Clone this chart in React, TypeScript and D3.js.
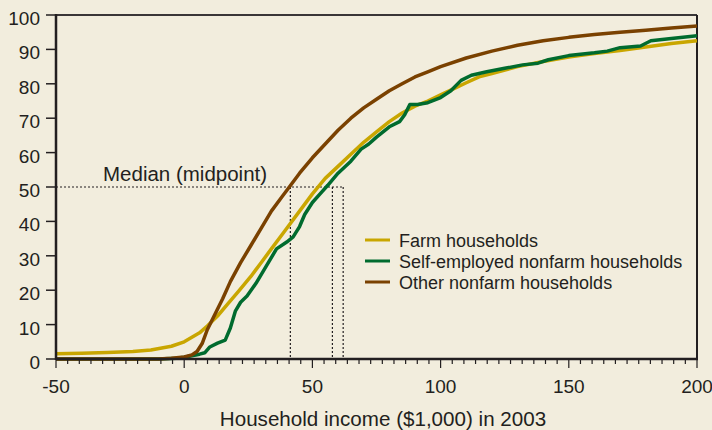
import * as d3 from "d3";

const yTicks = [0, 10, 20, 30, 40, 50, 60, 70, 80, 90, 100];
const xTicks = [-50, 0, 50, 100, 150, 200];

// income ($1,000), cumulative share of households (%)
const farmX = [-50, -40, -30, -20, -13, -5, 0, 3, 6, 9, 13, 17, 21, 26, 30, 34, 39, 45, 50, 55, 60, 65, 70, 75, 80, 85, 90, 95, 100, 105, 110, 115, 120, 130, 140, 150, 160, 170, 180, 190, 200];
const farmY = [1.5, 1.7, 1.9, 2.2, 2.6, 3.7, 5, 6.3, 7.6, 9.6, 12.5, 16, 19.5, 24, 28, 32, 37, 43, 48, 52.5, 56, 59.5, 63, 66, 69, 71.5, 73.5, 75, 76.8, 78.5, 80.3, 82, 83, 85, 86.5, 87.8, 88.8, 89.7, 90.7, 91.7, 92.5];

const selfX = [-50, -10, -3, 0, 6, 8, 10, 13, 16, 18, 20, 22, 24.5, 28, 32, 36, 40, 42.5, 45, 47, 50, 53, 56, 60, 65, 69, 72, 75, 80, 84, 86, 88, 91, 95, 100, 104, 108, 112, 118, 125, 132, 138, 142, 150, 160, 165, 170, 178, 182, 190, 200];
const selfY = [0, 0, 0.2, 0.5, 1.4, 1.8, 3.5, 4.6, 5.5, 9, 14, 16.5, 18.3, 22, 27, 32, 34, 35.5, 38.5, 42, 45.5, 48, 50.5, 54, 57.5, 61, 62.5, 64.5, 67.5, 69, 71, 74, 74, 74.5, 76, 78, 81, 82.5, 83.5, 84.5, 85.5, 86, 87, 88.2, 89, 89.5, 90.5, 91, 92.5, 93.2, 94];

const otherX = [-50, -10, -5, 0, 3, 5, 7, 9, 12, 15, 18, 22, 26, 30, 34, 38, 41, 45, 50, 55, 60, 65, 70, 75, 80, 85, 90, 95, 100, 110, 120, 130, 140, 150, 160, 170, 180, 190, 200];
const otherY = [0, 0, 0.2, 0.6, 1.2, 2.2, 4.5, 8.5, 13, 17.5, 22.5, 28, 33, 38, 43, 47, 50, 54, 58.5, 62.5, 66.5, 70, 73, 75.5, 78, 80, 82, 83.5, 85, 87.5, 89.5, 91.2, 92.5, 93.5, 94.3, 95, 95.6, 96.2, 96.8];

const medians = [41.4, 57.8, 62];

const seriesNames = ["Farm households", "Self-employed nonfarm households", "Other nonfarm households"];
const seriesColors = ["#c9a600", "#006b2e", "#7a4100"];

export default function App() {
  const width = 712;
  const height = 430;
  const left = 56, right = 697, top = 15, bottom = 359;

  const x = d3.scaleLinear().domain([-50, 200]).range([left, right]);
  const y = d3.scaleLinear().domain([0, 100]).range([bottom, top]);

  const line = d3.line<[number, number]>()
    .x(d => x(d[0]))
    .y(d => y(d[1]));

  const series = [
    d3.zip(farmX, farmY) as [number, number][],
    d3.zip(selfX, selfY) as [number, number][],
    d3.zip(otherX, otherY) as [number, number][],
  ];

  const minor = d3.range(0, 56).map(i => -50 + (i * 50) / 11);
  const font = "'Liberation Sans', Arial, Helvetica, sans-serif";
  const ink = "#231f20";

  return (
    <svg width={width} height={height} style={{ position: "absolute", left: 0, top: 0, background: "#f2eddd" }} fontFamily={font}>
      <rect width={width} height={height} fill="#f2eddd" />

      {/* median guides */}
      <line x1={x(-50)} x2={x(d3.max(medians)!)} y1={y(50)} y2={y(50)} stroke={ink} strokeWidth={1.2} strokeDasharray="2,2" />
      {medians.map(m => (
        <line key={m} x1={x(m)} x2={x(m)} y1={y(50)} y2={y(0)} stroke={ink} strokeWidth={1.2} strokeDasharray="2,2" />
      ))}
      <text x={103} y={181} fontSize={20.5} fill={ink}>Median (midpoint)</text>

      {/* frame */}
      <line x1={left} x2={right} y1={top} y2={top} stroke="#3a3637" strokeWidth={2} />
      <line x1={right} x2={right} y1={top} y2={bottom} stroke={ink} strokeWidth={2} />

      {series.map((s, i) => (
        <path key={i} d={line(s) ?? ""} fill="none" stroke={seriesColors[i]} strokeWidth={3.5} strokeLinejoin="round" />
      ))}

      <line x1={left} x2={left} y1={top - 1} y2={bottom + 1} stroke={ink} strokeWidth={2.5} />
      <line x1={left} x2={right + 1} y1={bottom} y2={bottom} stroke={ink} strokeWidth={2.5} />

      {yTicks.map(t => (
        <g key={t}>
          <line x1={left - 10} x2={left} y1={y(t)} y2={y(t)} stroke={ink} strokeWidth={1.5} />
          <text x={40} y={y(t) + 10} textAnchor="end" fontSize={19} fill={ink}>{t}</text>
        </g>
      ))}

      {minor.map((t, i) => (
        <line key={i} x1={x(t)} x2={x(t)} y1={bottom} y2={bottom + (i % 11 === 0 ? 9 : 5)} stroke={ink} strokeWidth={1.2} />
      ))}
      {xTicks.map(t => (
        <text key={t} x={x(t)} y={393} textAnchor="middle" fontSize={19} fill={ink}>{t}</text>
      ))}

      <text x={383} y={426} textAnchor="middle" fontSize={20.6} fill={ink}>Household income ($1,000) in 2003</text>

      {seriesNames.map((n, i) => (
        <g key={n} transform={`translate(365, ${240 + i * 21})`}>
          <line x1={0} x2={25} y1={0} y2={0} stroke={seriesColors[i]} strokeWidth={3} />
          <text x={34} y={6.5} fontSize={18} fill={ink}>{n}</text>
        </g>
      ))}
    </svg>
  );
}
